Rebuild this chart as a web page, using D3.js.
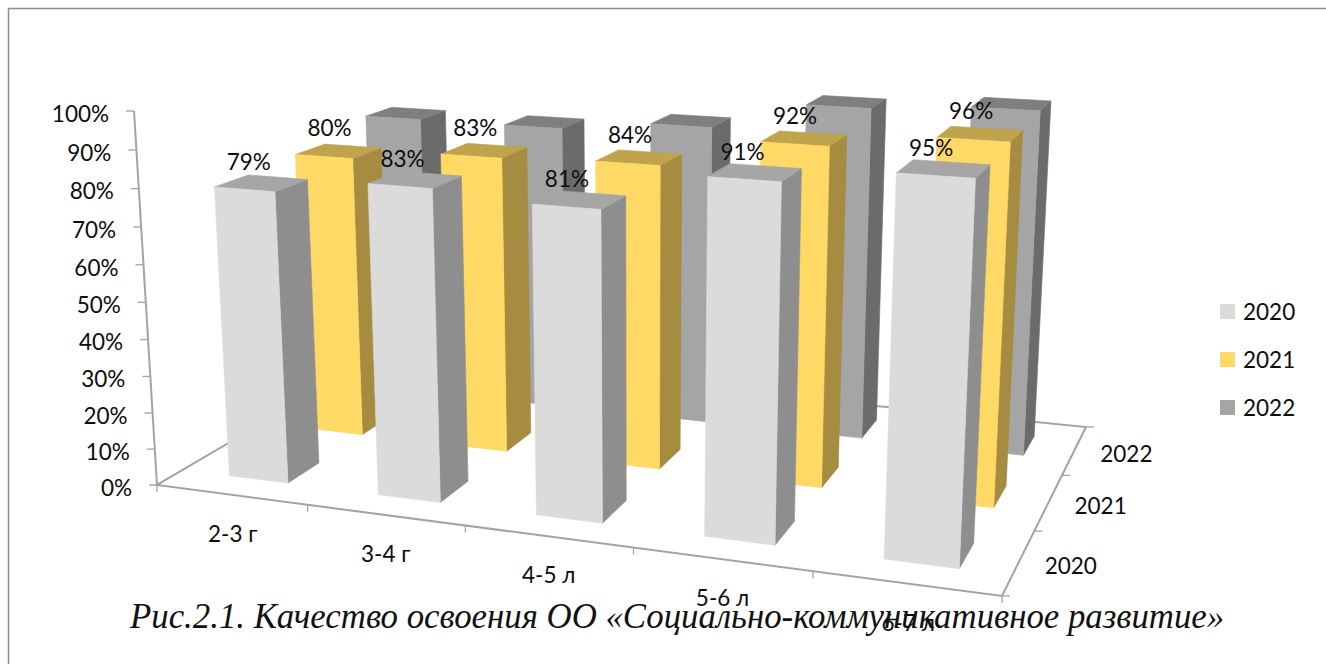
<!DOCTYPE html>
<html><head><meta charset="utf-8">
<style>html,body{margin:0;padding:0;background:#fff}svg{display:block}</style>
<script src="https://cdnjs.cloudflare.com/ajax/libs/d3/7.9.0/d3.min.js"></script>
</head><body><div id="chart"></div>
<script>
const categories = ["2-3 г","3-4 г","4-5 л","5-6 л","6-7 л"];
const seriesNames = ["2020","2021","2022"];
const values2020 = [79,83,81,91,95];
const values2021 = [80,83,84,92,96];
const values2022 = [84,84,87,95,97];
const valueTicks = [0,10,20,30,40,50,60,70,80,90,100];
const caption = "Рис.2.1. Качество освоения ОО «Социально-коммуникативное развитие»";
const seriesValues = [values2020, values2021, values2022];
const faceColours = [
  {front:"#DBDBDB", side:"#8E8E8E", top:"#A6A6A6"},
  {front:"#FFD966", side:"#A68C40", top:"#BFA44D"},
  {front:"#A5A5A5", side:"#6B6B6B", top:"#7F7F7F"}
];
const legendColours = ["#DBDBDB","#FFD966","#A5A5A5"];
const W=1326,H=664;

// scales into the box's own units
const xBand = d3.scaleBand().domain(categories).range([0.005,1.005]).paddingInner(.6).paddingOuter(.3);
const zBand = d3.scaleBand().domain(seriesNames).range([0,1]).paddingInner(.6).paddingOuter(.3);
const yScale = d3.scaleLinear().domain([0,100]).range([0,1]);

// perspective camera of the plot box
const floor = [[157,485],[1002,596],[1086,427],[377,356]];
const vanish = [639,8330], lambda = -0.0455;
const [[x0,y0],[x1,y1],[x2,y2],[x3,y3]] = floor;
const dx1=x1-x2,dx2=x3-x2,sx=x0-x1+x2-x3,dy1=y1-y2,dy2=y3-y2,sy=y0-y1+y2-y3;
const den=dx1*dy2-dx2*dy1;
const g=(sx*dy2-dx2*sy)/den,h=(dx1*sy-sx*dy1)/den;
const a=x1-x0+g*x1,b=x3-x0+h*x3,d=y1-y0+g*y1,e=y3-y0+h*y3;
function project(s,t,wRaw){
  const w=wRaw*(1-0.025*s-0.01*t);
  const q=g*s+h*t+1+lambda*w;
  return [(a*s+b*t+x0+lambda*vanish[0]*w)/q,(d*s+e*t+y0+lambda*vanish[1]*w)/q];
}

const svg=d3.select("#chart").append("svg").attr("width",W).attr("height",H);
// frame
svg.append("rect").attr("x",8.5).attr("y",8.5).attr("width",W+20).attr("height",H+20)
  .attr("fill","#fff").attr("stroke","#8c8c8c").attr("stroke-width",1.5);

const line=d3.line();
const axisCol="#A3A3A3";
const ag=svg.append("g").attr("fill","none").attr("stroke",axisCol).attr("stroke-width",2);
// floor + vertical axis
ag.append("path").attr("d",line([project(0,1,0),project(0,0,0),project(1,0,0),project(1,1,0),project(0,1,0)]));
ag.append("path").attr("d",line([project(0,0,0),project(0,0,1)]));
const tg=svg.append("g").attr("fill","none").attr("stroke",axisCol).attr("stroke-width",1.3);
valueTicks.forEach(v=>{const p=project(0,0,yScale(v));
  tg.append("path").attr("d",line([[p[0]-8,p[1]],p]));});
const nCat=categories.length;
d3.range(nCat+1).forEach(i=>{const p=project(i===0||i===nCat?i/nCat:0.003+i/nCat,0,0);
  tg.append("path").attr("d",line([p,[p[0],p[1]+7]]));});
d3.range(seriesNames.length+1).forEach(i=>{const p=project(1,i/seriesNames.length,0);
  tg.append("path").attr("d",line([p,[p[0]+8,p[1]]]));});

// bars: back row first
const barsG=svg.append("g");
[2,1,0].forEach(si=>{
  const zA=zBand(seriesNames[si]),zB=zA+zBand.bandwidth();
  categories.forEach((c,ci)=>{
    const xA=xBand(c),xB=xA+xBand.bandwidth(),w=yScale(seriesValues[si][ci]);
    const col=faceColours[si];
    const g1=barsG.append("g").attr("stroke-width",.6).attr("stroke-linejoin","round");
    const face=(pts,f)=>g1.append("path").attr("d",line(pts)+"Z").attr("fill",f).attr("stroke",f);
    face([project(xB,zA,0),project(xB,zB,0),project(xB,zB,w),project(xB,zA,w)],col.side);
    face([project(xA,zA,w),project(xB,zA,w),project(xB,zB,w),project(xA,zB,w)],col.top);
    face([project(xA,zA,0),project(xB,zA,0),project(xB,zA,w),project(xA,zA,w)],col.front);
  });
});

const font="Lato, Carlito, sans-serif";
const txt=svg.append("g").attr("font-family",font).attr("font-size",22.5).attr("fill","#0d0d0d");
// y tick labels
txt.append("g").attr("text-anchor","end").selectAll("text").data(valueTicks).join("text")
  .attr("x",v=>project(0,0,yScale(v))[0]-25).attr("y",v=>project(0,0,yScale(v))[1]+5)
  .attr("dominant-baseline","middle").text(v=>v+"%");
// category labels
txt.append("g").attr("text-anchor","middle").selectAll("text").data(categories).join("text")
  .attr("x",c=>project(xBand(c)+xBand.bandwidth()/2,0,0)[0]-1)
  .attr("y",c=>project(xBand(c)+xBand.bandwidth()/2,0,0)[1]+41)
  .attr("dominant-baseline","middle").text(c=>c);
// depth labels
txt.append("g").attr("text-anchor","middle").selectAll("text").data(seriesNames).join("text")
  .attr("x",c=>project(1,zBand(c)+zBand.bandwidth()/2,0)[0]+52)
  .attr("y",c=>project(1,zBand(c)+zBand.bandwidth()/2,0)[1]+6)
  .attr("dominant-baseline","middle").text(c=>c);
// value labels
const labelOffsets=[[-12.5,-18.5],[-9,-20.5]];
[0,1].forEach(si=>{
  const zC=zBand(seriesNames[si])+zBand.bandwidth()/2;
  txt.append("g").attr("text-anchor","middle").selectAll("text").data(categories).join("text")
   .attr("x",(c,i)=>project(xBand(c)+xBand.bandwidth()/2,zC,yScale(seriesValues[si][i]))[0]+labelOffsets[si][0])
   .attr("y",(c,i)=>project(xBand(c)+xBand.bandwidth()/2,zC,yScale(seriesValues[si][i]))[1]+labelOffsets[si][1])
   .attr("dominant-baseline","middle").text((c,i)=>seriesValues[si][i]+"%");
});
// legend
const legendY=d3.scalePoint().domain(seriesNames).range([311.5,407.5]);
const lg=svg.append("g").selectAll("g").data(seriesNames).join("g").attr("transform",s=>`translate(1220,${legendY(s)})`);
lg.append("rect").attr("x",0).attr("y",-7.5).attr("width",15).attr("height",15).attr("fill",(s,i)=>legendColours[i]);
lg.append("text").attr("x",23).attr("y",3).attr("dominant-baseline","middle").attr("font-family",font).attr("font-size",22.5).attr("fill","#0d0d0d").text(s=>s);
// caption
svg.append("text").attr("x",130).attr("y",628).attr("font-family","'Liberation Serif','Times New Roman',serif")
  .attr("font-style","italic").attr("font-size",34.8).attr("fill","#111").text(caption);
</script></body></html>
